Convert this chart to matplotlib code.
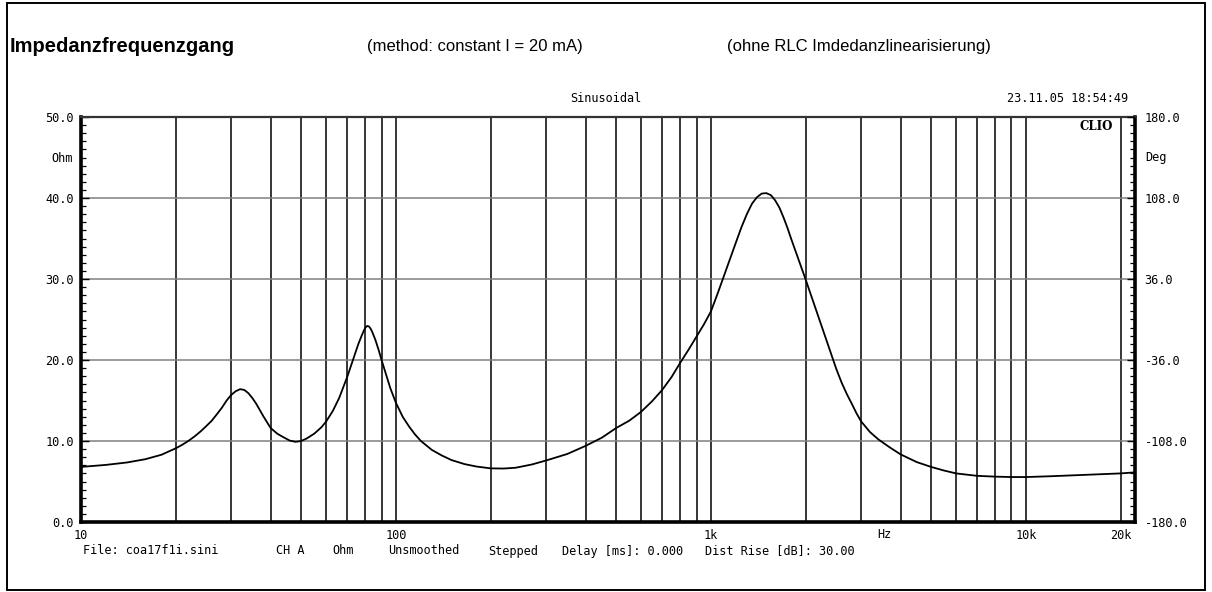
import matplotlib
matplotlib.use("Agg")
import matplotlib.pyplot as plt
from matplotlib.ticker import MultipleLocator, FixedLocator, NullFormatter
from matplotlib.patches import Rectangle

# ---------------- data ----------------
freq_hz = [10, 12, 14, 16, 18, 20, 21, 22, 23, 24, 25, 26, 27, 28, 29, 30, 31, 32, 33, 34,
           35, 36, 37, 38, 39, 40, 42, 44, 46, 48, 50, 52, 55, 58, 60, 63, 66, 70, 73, 76,
           78, 79, 80, 81, 82, 83, 84, 86, 88, 90, 93, 96, 100, 105, 110, 115, 120, 130, 140,
           150, 165, 180, 200, 220, 240, 270, 300, 350, 400, 450, 500, 550, 600, 650, 700,
           750, 800, 850, 900, 950, 1000, 1050, 1100, 1150, 1200, 1250, 1300, 1350, 1400,
           1450, 1500, 1550, 1600, 1650, 1700, 1750, 1800, 1850, 1900, 1950, 2000, 2100,
           2200, 2300, 2400, 2500, 2600, 2700, 2800, 2900, 3000, 3200, 3400, 3700, 4000,
           4500, 5000, 5500, 6000, 7000, 8000, 9000, 10000, 12000, 15000, 18000, 20000, 22200]
impedance_ohm = [6.8, 7.05, 7.35, 7.75, 8.3, 9.1, 9.55, 10.05, 10.6, 11.2, 11.85, 12.5, 13.3,
                 14.1, 15.0, 15.7, 16.15, 16.4, 16.3, 15.9, 15.3, 14.6, 13.8, 13.0, 12.3, 11.6,
                 10.9, 10.45, 10.05, 9.9, 10.0, 10.3, 10.9, 11.7, 12.4, 13.7, 15.3, 17.9,
                 20.0, 22.0, 23.1, 23.6, 24.0, 24.2, 24.15, 23.9, 23.5, 22.5, 21.3, 20.0, 18.2,
                 16.5, 14.7, 13.0, 11.8, 10.8, 10.0, 8.9, 8.2, 7.65, 7.15, 6.85, 6.62, 6.6,
                 6.7, 7.1, 7.6, 8.4, 9.4, 10.4, 11.6, 12.5, 13.6, 14.9, 16.3, 17.9, 19.7, 21.3,
                 22.9, 24.4, 26.0, 28.2, 30.4, 32.5, 34.5, 36.4, 38.0, 39.3, 40.1, 40.55, 40.6,
                 40.35, 39.7, 38.8, 37.6, 36.3, 34.9, 33.6, 32.3, 31.1, 29.9, 27.5, 25.2, 23.0,
                 20.9, 18.9, 17.2, 15.8, 14.6, 13.4, 12.4, 11.1, 10.2, 9.2, 8.35, 7.4, 6.8,
                 6.35, 6.0, 5.7, 5.6, 5.55, 5.55, 5.65, 5.8, 5.92, 6.0, 6.13]

ohm_ticks = [0, 10, 20, 30, 40, 50]
deg_ticks = [-180, -108, -36, 36, 108, 180]
x_major = [10, 100, 1000, 10000, 20000]
x_labels = ["10", "100", "1k", "10k", "20k"]
x_minor = [k * d for d in (10, 100, 1000) for k in range(2, 10)]

title = "Impedanzfrequenzgang"
subtitle1 = "(method: constant I = 20 mA)"
subtitle2 = "(ohne RLC Imdedanzlinearisierung)"
info_items = ["File: coa17f1i.sini", "CH A", "Ohm", "Unsmoothed", "Stepped",
              "Delay [ms]: 0.000", "Dist Rise [dB]: 30.00"]

# ---------------- layout ----------------
W, H = 1212, 592
fig = plt.figure(figsize=(W / 100, H / 100), dpi=100)
fig.patch.set_facecolor("white")


def px(x, y):
    return x / W, 1 - y / H


L, R, T, B = 81, 1135, 117, 522
ax = fig.add_axes([L / W, 1 - B / H, (R - L) / W, (B - T) / H])
ax.set_xscale("log")
ax.set_xlim(10, 22200)
ax.set_ylim(0, 50)

mono = "DejaVu Sans Mono"
small = 8.6

ax.plot(freq_hz, impedance_ohm, color="black", lw=1.3, zorder=5)

# x grid (black verticals)
ax.xaxis.set_major_locator(FixedLocator(x_major))
ax.set_xticklabels(x_labels, fontfamily=mono, fontsize=small)
ax.xaxis.set_minor_locator(FixedLocator(x_minor))
ax.xaxis.set_minor_formatter(NullFormatter())
ax.tick_params(axis="x", which="both", length=0, pad=5)
ax.grid(True, axis="x", which="both", color="black", lw=1.1)

# y grid (gray horizontals)
ax.set_yticks(ohm_ticks)
ax.set_yticklabels([f"{v:.1f}" for v in ohm_ticks], fontfamily=mono, fontsize=small)
ax.yaxis.set_minor_locator(MultipleLocator(1))
ax.tick_params(axis="y", which="major", direction="in", length=6, width=1, pad=5)
ax.tick_params(axis="y", which="minor", direction="in", length=3.5, width=0.9)
ax.grid(True, axis="y", which="major", color="#808080", lw=1.1)
ax.set_axisbelow(True)

for s in ("left", "bottom", "right"):
    ax.spines[s].set_linewidth(2.6)
    ax.spines[s].set_color("black")
ax.spines["top"].set_linewidth(1.6)
ax.spines["top"].set_color("#333333")

ax2 = ax.twinx()
ax2.set_ylim(-180, 180)
ax2.set_yticks(deg_ticks)
ax2.set_yticklabels([f"{v:.1f}" for v in deg_ticks], fontfamily=mono, fontsize=small)
ax2.yaxis.set_minor_locator(MultipleLocator(7.2))
ax2.tick_params(axis="y", which="major", direction="in", length=6, width=1, pad=7)
ax2.tick_params(axis="y", which="minor", direction="in", length=3.5, width=0.9)
for s in ax2.spines.values():
    s.set_visible(False)

# axis unit labels
fig.text(*px(73, 158), "Ohm", ha="right", va="center", fontfamily=mono, fontsize=small)
fig.text(*px(1145, 158), "Deg", ha="left", va="center", fontfamily=mono, fontsize=small)
fig.text(*px(884, 535), "Hz", ha="center", va="center", fontfamily=mono, fontsize=small)

# header texts
fig.text(*px(10, 46), title, ha="left", va="center", fontfamily="Liberation Sans",
         fontweight="bold", fontsize=14.5)
fig.text(*px(367, 46), subtitle1, ha="left", va="center", fontfamily="Liberation Sans",
         fontsize=12)
fig.text(*px(727, 46), subtitle2, ha="left", va="center", fontfamily="Liberation Sans",
         fontsize=12)
fig.text(*px(606, 98), "Sinusoidal", ha="center", va="center", fontfamily=mono, fontsize=small)
fig.text(*px(1128, 98), "23.11.05 18:54:49", ha="right", va="center", fontfamily=mono,
         fontsize=small)
fig.text(*px(1113, 126), "CLIO", ha="right", va="center", fontfamily="DejaVu Serif",
         fontweight="bold", fontsize=8.5, zorder=10)

# bottom info line
info_x = [83, 276, 332, 388, 488, 562, 705]
for xx, s in zip(info_x, info_items):
    fig.text(*px(xx, 551), s, ha="left", va="center", fontfamily=mono, fontsize=small)

# outer frame
fig.patches.append(Rectangle(px(7, 590), (1205 - 7) / W, (590 - 3) / H,
                             transform=fig.transFigure, fill=False, edgecolor="black",
                             lw=1.4))

fig.savefig("out.png", dpi=100, facecolor="white")
